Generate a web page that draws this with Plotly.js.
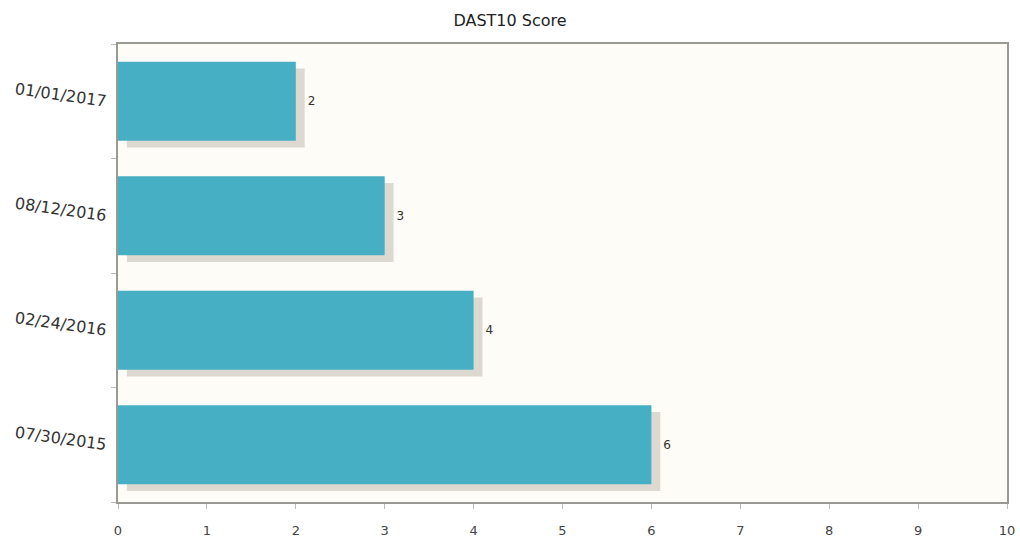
<!DOCTYPE html>
<html>
<head>
<meta charset="utf-8">
<script src="https://cdn.plot.ly/plotly-3.0.1.min.js"></script>
<style>html,body{margin:0;padding:0;background:#fff;}#chart{width:1020px;height:542px;}</style>
</head>
<body>
<div id="chart"></div>
<script>
var dates = ["07/30/2015", "02/24/2016", "08/12/2016", "01/01/2017"];
var scores = [6, 4, 3, 2];
var xTicks = [0, 1, 2, 3, 4, 5, 6, 7, 8, 9, 10];

var shadowOffset = 0.1;

var shadow = {
  type: "bar",
  orientation: "h",
  y: dates,
  x: scores,
  base: shadowOffset,
  width: 0.69,
  offset: -0.345 - 0.06,
  marker: { color: "rgba(140,125,110,0.28)", line: { width: 0 } },
  hoverinfo: "skip",
  showlegend: false
};

var bars = {
  type: "bar",
  orientation: "h",
  y: dates,
  x: scores,
  width: 0.69,
  offset: -0.345,
  marker: { color: "#47afc4", line: { width: 0 } },
  showlegend: false
};

var labels = {
  type: "bar",
  orientation: "h",
  y: dates,
  x: scores,
  base: shadowOffset,
  width: 0.69,
  offset: -0.345,
  marker: { color: "rgba(0,0,0,0)", line: { width: 0 } },
  text: scores.map(String),
  textposition: "outside",
  cliponaxis: false,
  textfont: { family: "DejaVu Sans, sans-serif", size: 12, color: "#333" },
  hoverinfo: "skip",
  showlegend: false
};

var layout = {
  width: 1020,
  height: 542,
  margin: { l: 118, r: 13, t: 44, b: 40 },
  paper_bgcolor: "#ffffff",
  plot_bgcolor: "#fdfcf7",
  barmode: "overlay",
  title: {
    text: "DAST10 Score",
    font: { family: "DejaVu Sans, sans-serif", size: 16, color: "#222" },
    x: 0.5, xanchor: "center", y: 0.963, yanchor: "middle"
  },
  xaxis: {
    range: [0, 10],
    tickvals: xTicks,
    ticktext: xTicks.map(String),
    showgrid: false,
    zeroline: false,
    showline: true,
    linecolor: "#9a9a94",
    linewidth: 2,
    mirror: true,
    ticks: "outside",
    ticklen: 5,
    tickcolor: "#bbbbbb",
    ticklabelstandoff: 10,
    tickfont: { family: "DejaVu Sans, sans-serif", size: 13, color: "#444" },
    fixedrange: true
  },
  yaxis: {
    type: "category",
    categoryorder: "array",
    categoryarray: dates,
    range: [-0.5, 3.5],
    tickson: "boundaries",
    ticks: "outside",
    ticklen: 5,
    tickcolor: "#bbbbbb",
    tickangle: 8,
    ticklabelstandoff: 6,
    showgrid: false,
    zeroline: false,
    showline: true,
    linecolor: "#9a9a94",
    linewidth: 2,
    mirror: true,
    tickfont: { family: "DejaVu Sans, sans-serif", size: 16, color: "#333" },
    fixedrange: true
  }
};

Plotly.newPlot("chart", [shadow, bars, labels], layout, { displayModeBar: false, staticPlot: true });
</script>
</body>
</html>
